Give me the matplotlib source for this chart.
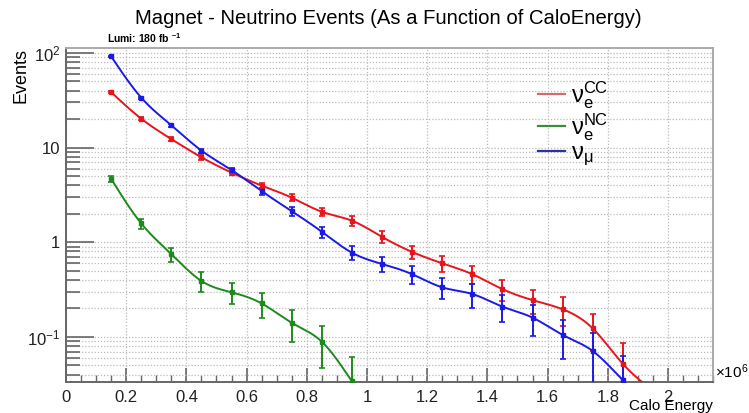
import numpy as np
import matplotlib
matplotlib.use('Agg')
import matplotlib.pyplot as plt
from matplotlib.ticker import FixedLocator, NullFormatter, MultipleLocator

plt.rcParams['font.family'] = ['Liberation Sans', 'DejaVu Sans']
plt.rcParams['mathtext.fontset'] = 'custom'
plt.rcParams['mathtext.rm'] = 'Liberation Sans'
plt.rcParams['mathtext.it'] = 'Liberation Sans:italic'
plt.rcParams['mathtext.bf'] = 'Liberation Sans:bold'
plt.rcParams['mathtext.default'] = 'regular'

# bin centres (x 1e6)
energy = [0.15, 0.25, 0.35, 0.45, 0.55, 0.65, 0.75, 0.85, 0.95, 1.05,
          1.15, 1.25, 1.35, 1.45, 1.55, 1.65, 1.75, 1.85, 1.95]

# nu_e CC
cc_vals = [38.5, 20.2, 12.3, 7.9, 5.44, 3.97, 2.96, 2.1, 1.69, 1.14,
           0.79, 0.60, 0.46, 0.32, 0.245, 0.196, 0.123, 0.052, 0.027]
cc_err = [0.9, 0.65, 0.5, 0.42, 0.35, 0.3, 0.25, 0.21, 0.19, 0.16,
          0.13, 0.11, 0.1, 0.08, 0.07, 0.065, 0.052, 0.034, 0.024]

# nu_e NC
nc_energy = energy[:10]
nc_vals = [4.68, 1.58, 0.75, 0.39, 0.296, 0.226, 0.141, 0.089, 0.034, 0.012]
nc_err = [0.32, 0.19, 0.13, 0.09, 0.075, 0.066, 0.053, 0.042, 0.028, 0.016]

# nu_mu
mu_vals = [92.0, 33.7, 17.2, 9.3, 5.8, 3.47, 2.13, 1.29, 0.776, 0.59,
           0.46, 0.334, 0.284, 0.209, 0.160, 0.105, 0.071, 0.035, 0.018]
mu_err = [1.4, 0.85, 0.62, 0.45, 0.36, 0.28, 0.22, 0.17, 0.13, 0.11,
          0.1, 0.085, 0.08, 0.065, 0.058, 0.046, 0.04, 0.028, 0.02]

YMIN, YMAX = 0.0334, 113


def smooth(x, y, n=400):
    # natural cubic spline through the points in log10(y)
    x = np.asarray(x, float)
    y = np.log10(np.asarray(y, float))
    m = len(x)
    h = np.diff(x)
    A = np.zeros((m, m))
    b = np.zeros(m)
    A[0, 0] = A[-1, -1] = 1.0
    for i in range(1, m - 1):
        A[i, i - 1] = h[i - 1]
        A[i, i] = 2 * (h[i - 1] + h[i])
        A[i, i + 1] = h[i]
        b[i] = 3 * ((y[i + 1] - y[i]) / h[i] - (y[i] - y[i - 1]) / h[i - 1])
    c = np.linalg.solve(A, b)
    xs = np.linspace(x[0], x[-1], n)
    idx = np.clip(np.searchsorted(x, xs) - 1, 0, m - 2)
    dx = xs - x[idx]
    bb = (y[idx + 1] - y[idx]) / h[idx] - h[idx] * (2 * c[idx] + c[idx + 1]) / 3
    dd = (c[idx + 1] - c[idx]) / (3 * h[idx])
    ys = y[idx] + bb * dx + c[idx] * dx ** 2 + dd * dx ** 3
    return xs, 10 ** ys


fig = plt.figure(figsize=(7.49, 4.13), dpi=100)
ax = fig.add_axes([0.0881, 0.075, 0.864, 0.809])

series = [
    (energy, cc_vals, cc_err, '#e8141c', '#d46a6a', r'$\nu_{e}^{CC}$'),
    (nc_energy, nc_vals, nc_err, '#1e8a1e', '#3c8c3c', r'$\nu_{e}^{NC}$'),
    (energy, mu_vals, mu_err, '#1a1ae6', '#3030a0', r'$\nu_{\mu}$'),
]
handles = []
for xv, yv, ev, col, lcol, lab in series:
    xs, ys = smooth(xv, yv)
    ax.plot(xs, ys, color=col, lw=1.4, zorder=3)
    # markers only for bins that sit inside the frame
    keep = [i for i, v in enumerate(yv) if v > YMIN]
    ax.errorbar([xv[i] for i in keep], [yv[i] for i in keep],
                yerr=[ev[i] for i in keep], fmt='s', ms=3, color=col,
                ecolor=col, elinewidth=1.4, capsize=2.5, capthick=1.2,
                zorder=4)
    h, = ax.plot([], [], color=lcol, lw=1.6, label=lab)
    handles.append(h)

ax.set_yscale('log')
ax.set_xlim(0, 2.15)
ax.set_ylim(YMIN, YMAX)

ax.xaxis.set_major_locator(MultipleLocator(0.2))
ax.xaxis.set_minor_locator(MultipleLocator(0.05))
ax.set_xticklabels([])
for v in np.arange(0, 2.01, 0.2):
    ax.text(v, -0.025, '%g' % round(v, 1), transform=ax.get_xaxis_transform(),
            ha='center', va='top', fontsize=12, color='#222222')

major_y = [0.1, 1, 10, 100]
minor_y = [m * d for d in [0.01, 0.1, 1, 10, 100] for m in range(2, 10)]
ax.yaxis.set_major_locator(FixedLocator(major_y))
ax.yaxis.set_minor_locator(FixedLocator(minor_y))
ax.yaxis.set_minor_formatter(NullFormatter())
ax.set_yticklabels(['$10^{-1}$', '1', '10', '$10^{2}$'], fontsize=12,
                   color='#222222')

ax.tick_params(axis='both', which='major', direction='in', color='#666666',
               width=1.2, pad=4)
ax.tick_params(axis='y', which='major', length=20)
ax.tick_params(axis='y', which='minor', direction='in', length=10,
               color='#666666', width=1.2)
ax.tick_params(axis='x', which='major', length=10)
ax.tick_params(axis='x', which='minor', direction='in', length=5,
               color='#666666', width=1.0)

ax.grid(True, which='major', axis='x', ls=(0, (1, 1.5)), color='#bbbbbb', lw=0.9)
ax.grid(True, which='both', axis='y', ls=(0, (1, 1.5)), color='#bbbbbb', lw=0.9)
ax.set_axisbelow(True)

for s in ['left', 'bottom']:
    ax.spines[s].set_color('#666666')
    ax.spines[s].set_linewidth(1.4)
for s in ['top', 'right']:
    ax.spines[s].set_color('#aaaaaa')
    ax.spines[s].set_linewidth(1.4)

leg = ax.legend(handles=handles, loc='upper left', bbox_to_anchor=(0.697, 0.97),
                frameon=False, fontsize=17, handlelength=1.15, labelspacing=0.0,
                handletextpad=0.25)

fig.text(0.519, 0.955, 'Magnet - Neutrino Events (As a Function of CaloEnergy)',
         ha='center', va='center', fontsize=14.6)
fig.text(0.143, 0.908, r'Lumi: 180 fb $^{-1}$', ha='left', va='center',
         fontsize=7.5, fontweight='bold')
fig.text(0.028, 0.816, 'Events', rotation=90, ha='center', va='center',
         fontsize=13)
fig.text(0.952, 0.016, 'Calo Energy', ha='right', va='center', fontsize=11)
fig.text(0.955, 0.099, r'$\times10^{6}$', ha='left', va='center', fontsize=11)

fig.savefig('out.png', dpi=100)
